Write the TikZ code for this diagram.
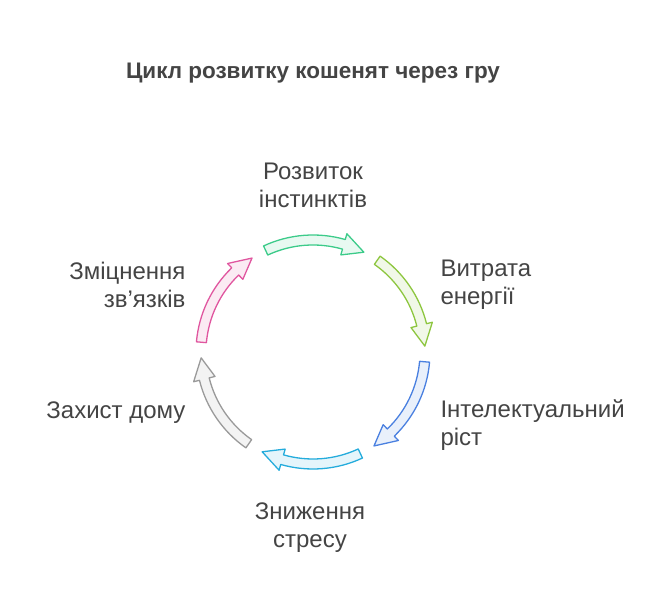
\documentclass[tikz,border=0pt]{standalone}
\usepackage{fontspec}
\setmainfont{Liberation Sans}
\definecolor{txt}{HTML}{444444}
\definecolor{cgreen}{HTML}{3CCB8A}
\definecolor{clime}{HTML}{8DC63F}
\definecolor{cblue}{HTML}{4A80E0}
\definecolor{ccyan}{HTML}{25ACDC}
\definecolor{cgray}{HTML}{9A9A9A}
\definecolor{cpink}{HTML}{E0569F}
\newcommand{\cyclearrow}[2]{%
  \draw[#2, line width=1.3pt, line join=round, fill=#2!12]
    (#1+25:117) arc[start angle=#1+25, end angle=#1-16, radius=117]
    -- (#1-16:123) -- (#1-27:112) -- (#1-16:101)
    -- (#1-16:107) arc[start angle=#1-16, end angle=#1+25, radius=107] -- cycle;}
\begin{document}
\begin{tikzpicture}[x=1pt, y=1pt,
    lbl/.style={text=txt, font=\fontsize{24}{28}\selectfont, align=left},
]
\useasboundingbox (0,0) rectangle (669,613);
\node[text=txt, font=\bfseries\fontsize{22.5}{26}\selectfont] (title) at (313,540) {Цикл розвитку кошенят через гру};
\begin{scope}[shift={(313,261)}]
\cyclearrow{90}{cgreen}
\cyclearrow{30}{clime}
\cyclearrow{-30}{cblue}
\cyclearrow{-90}{ccyan}
\cyclearrow{-150}{cgray}
\cyclearrow{150}{cpink}
\end{scope}
\node[lbl, align=center] (instinct) at (313,428) {Розвиток\\інстинктів};
\node[lbl, anchor=west] (energy) at (437,328) {Витрата\\енергії};
\node[lbl, anchor=west] (intel) at (437,188) {Інтелектуальний\\ріст};
\node[lbl, align=center] (stress) at (310,85) {Зниження\\стресу};
\node[lbl, anchor=east, align=right] (home) at (189,200) {Захист дому};
\node[lbl, anchor=east, align=right] (bonds) at (189,328) {Зміцнення\\зв{\char"0027}язків};
\end{tikzpicture}
\end{document}
